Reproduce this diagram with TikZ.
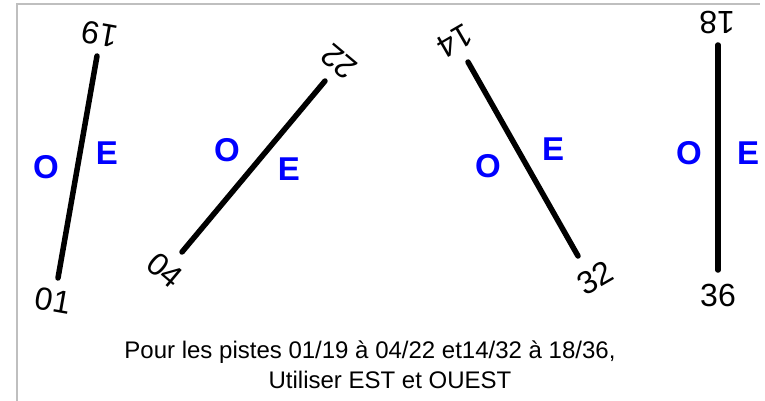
\documentclass[tikz,border=0pt]{standalone}
\usepackage{fontspec}
\setmainfont{Liberation Sans}
\begin{document}
\begin{tikzpicture}[x=1pt,y=-1pt,
    piste/.style={line width=5.5pt,line cap=round},
    qfu/.style={inner sep=0pt,font=\fontsize{32}{38}\selectfont},
    cote/.style={inner sep=0pt,text=blue,font=\fontsize{33}{38}\selectfont\bfseries},
    legende/.style={inner sep=0pt,anchor=base,font=\fontsize{24}{30}\selectfont}]
  \useasboundingbox (0,0) rectangle (765,401);
  \draw[black!25,line width=2pt] (16.5,401) -- (16.5,4) -- (760,4);
  % extremites des pistes
  \coordinate (p01) at (58,278);
  \coordinate (p19) at (97,56);
  \coordinate (p04) at (182,252);
  \coordinate (p22) at (325,81);
  \coordinate (p14) at (468,62);
  \coordinate (p32) at (578,256);
  \coordinate (p18) at (718,45);
  \coordinate (p36) at (718,270);
  \draw[piste] (p01) -- (p19);
  \draw[piste] (p04) -- (p22);
  \draw[piste] (p14) -- (p32);
  \draw[piste] (p18) -- (p36);
  % numeros
  \node[qfu,rotate=-10] (n01) at (53,301) {01};
  \node[qfu,rotate=170] (n19) at (100,34) {19};
  \node[qfu,rotate=-40] (n04) at (165,270) {04};
  \node[qfu,rotate=140] (n22) at (339,62) {22};
  \node[qfu,rotate=-150] (n14) at (455,41) {14};
  \node[qfu,rotate=30] (n32) at (595,278) {32};
  \node[qfu,rotate=180] (n18) at (717,23) {18};
  \node[qfu] (n36) at (718,295) {36};
  % ouest / est
  \node[cote] (o1) at (46,167) {O};
  \node[cote] (e1) at (107,153) {E};
  \node[cote] (o2) at (227,150) {O};
  \node[cote] (e2) at (289,169) {E};
  \node[cote] (o3) at (488,166) {O};
  \node[cote] (e3) at (553,149) {E};
  \node[cote] (o4) at (689,153) {O};
  \node[cote] (e4) at (748,153) {E};
  \node[legende] (ligne1) at (370,358) {Pour les pistes 01/19 à 04/22 et14/32 à 18/36,};
  \node[legende] (ligne2) at (390,388) {Utiliser EST et OUEST};
\end{tikzpicture}
\end{document}
